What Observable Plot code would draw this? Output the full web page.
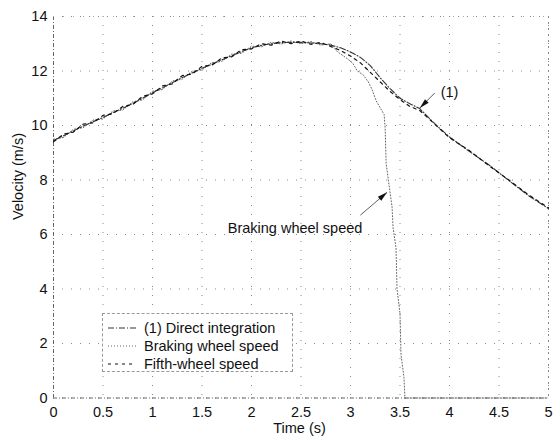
<!DOCTYPE html>
<html><head><meta charset="utf-8">
<script src="https://cdn.jsdelivr.net/npm/d3@7"></script>
<script src="https://cdn.jsdelivr.net/npm/@observablehq/plot@0.6"></script>
<style>
body{margin:0;background:#fff;font-family:"Liberation Sans",Arial,sans-serif;}
#wrap{position:relative;width:557px;height:441px;}
#legend{position:absolute;left:102px;top:313px;width:191px;height:59px;border:1px dashed #999;box-sizing:border-box;font-size:14.5px;background:#fff;}
.row{position:absolute;left:0;height:18px;width:100%;}
.row svg{position:absolute;left:3px;top:4px;}
.row span{position:absolute;left:41px;top:0;line-height:18px;white-space:nowrap;color:#111;}
</style></head><body><div id="wrap"></div>
<script>
// ---- data ----
const directTime = [0,0.1,0.2,0.3,0.4,0.5,0.6,0.7,0.8,0.9,1.0,1.1,1.2,1.3,1.4,1.5,1.6,1.7,1.8,1.9,2.0,2.1,2.2,2.3,2.4,2.5,2.6,2.7,2.8,
  2.9,3.0,3.1,3.2,3.3,3.4,3.5,3.6,3.7,3.8,3.9,4.0,4.2,4.4,4.6,4.8,5.0];
const directVelocity = [9.45,9.62,9.80,9.98,10.14,10.30,10.47,10.63,10.81,11.00,11.20,11.38,11.57,11.76,11.93,12.10,12.25,12.41,12.56,12.71,12.85,12.94,13.00,13.04,13.05,13.05,13.03,13.00,12.95,
  12.85,12.70,12.50,12.20,11.75,11.35,11.00,10.80,10.62,10.25,9.90,9.58,9.05,8.55,7.98,7.42,6.95];

const fifthTime = [0,0.1,0.2,0.3,0.4,0.5,0.6,0.7,0.8,0.9,1.0,1.1,1.2,1.3,1.4,1.5,1.6,1.7,1.8,1.9,2.0,2.1,2.2,2.3,2.4,2.5,2.6,2.7,2.8,
  2.9,3.0,3.1,3.2,3.3,3.4,3.5,3.6,3.7,3.8,3.9,4.0,4.2,4.4,4.6,4.8,5.0];
const fifthVelocity = [9.40,9.68,9.76,10.05,10.10,10.37,10.43,10.70,10.77,11.07,11.16,11.45,11.53,11.83,11.89,12.17,12.21,12.48,12.52,12.78,12.81,13.00,12.95,13.10,13.00,13.10,12.98,13.05,12.90,
  12.75,12.55,12.30,11.95,11.60,11.25,10.95,10.70,10.55,10.22,9.88,9.55,9.08,8.52,8.00,7.45,6.98];

const brakingTime = [0,0.1,0.2,0.3,0.4,0.5,0.6,0.7,0.8,0.9,1.0,1.1,1.2,1.3,1.4,1.5,1.6,1.7,1.8,1.9,2.0,2.1,2.2,2.3,2.4,2.5,2.6,2.7,2.8,
  2.87,2.95,3.02,3.07,3.13,3.18,3.22,3.26,3.30,3.34,3.35,3.36,3.42,3.43,3.46,3.47,3.50,3.51,3.54,3.55,4.0,5.0];
const brakingVelocity = [9.50,9.56,9.86,9.92,10.20,10.24,10.53,10.57,10.87,10.94,11.26,11.32,11.63,11.70,11.99,12.04,12.31,12.35,12.62,12.65,12.91,12.89,13.05,12.99,13.10,13.00,13.08,12.95,13.00,
  12.70,12.50,12.30,12.00,11.85,11.60,11.30,10.90,10.65,10.40,9.90,8.60,7.00,6.25,5.50,4.00,3.10,1.60,0.75,0,0,0];

const xTicks = [0,0.5,1,1.5,2,2.5,3,3.5,4,4.5,5];
const yTicks = [0,2,4,6,8,10,12,14];

const seriesNames = ["(1) Direct integration","Braking wheel speed","Fifth-wheel speed"];

const labelText = ["(1)","Braking wheel speed"];
const labelTime = [4.0,2.44];
const labelVel = [11.23,6.23];

const arrowFromTime = [3.85,3.10];
const arrowFromVel = [11.19,6.71];
const arrowToTime = [3.70,3.37];
const arrowToVel = [10.64,7.55];

// ---- styles ----
const styles = {
  direct: {stroke:"#333", strokeWidth:1.1, strokeDasharray:"6,2,1,2"},
  braking: {stroke:"#666", strokeWidth:1, strokeDasharray:"1,2"},
  fifth: {stroke:"#111", strokeWidth:1.2, strokeDasharray:"3,4"}
};

const toRows = (t, v) => t.map((d, i) => ({t: d, v: v[i]}));
const directRows = toRows(directTime, directVelocity);
const fifthRows = toRows(fifthTime, fifthVelocity);
const brakingRows = toRows(brakingTime, brakingVelocity);
const labelRows = labelText.map((s, i) => ({s, t: labelTime[i], v: labelVel[i]}));
const arrowRows = arrowFromTime.map((d, i) => ({x1: d, y1: arrowFromVel[i], x2: arrowToTime[i], y2: arrowToVel[i]}));

const chart = Plot.plot({
  width: 557, height: 441,
  marginLeft: 53, marginRight: 9, marginTop: 16, marginBottom: 43.5,
  x: {domain: [0, 5]},
  y: {domain: [0, 14]},
  style: {fontFamily: '"Liberation Sans", Arial, sans-serif', fontSize: "14.5px", color: "#111", background: "#fff"},
  marks: [
    Plot.gridX(xTicks, {stroke: "#888", strokeOpacity: 1, strokeDasharray: "1,8"}),
    Plot.gridY(yTicks, {stroke: "#888", strokeOpacity: 1, strokeDasharray: "1,8"}),
    Plot.ruleX([0], {stroke: "#666", strokeDasharray: "4,2,1,2"}),
    Plot.ruleX([5], {stroke: "#888", strokeDasharray: "2,4"}),
    Plot.ruleY([0], {stroke: "#666", strokeDasharray: "4,2,1,2"}),
    Plot.ruleY([14], {stroke: "#aaa", strokeDasharray: "1,9"}),
    Plot.axisX({ticks: xTicks, tickSize: 0, tickPadding: 9, label: null, tickFormat: d => String(d)}),
    Plot.axisY({ticks: yTicks, tickSize: 0, tickPadding: 6, label: null}),
    Plot.text(["Time (s)"], {frameAnchor: "bottom", dy: 34.5, dx: -1.5, fill: "#111"}),
    Plot.text(["Velocity (m/s)"], {frameAnchor: "left", rotate: -90, dx: -35, dy: 12.8, fill: "#111"}),
    Plot.line(brakingRows, {x: "t", y: "v", ...styles.braking}),
    Plot.line(directRows, {x: "t", y: "v", ...styles.direct}),
    Plot.line(fifthRows, {x: "t", y: "v", ...styles.fifth}),
    Plot.link(arrowRows, {x1: "x1", y1: "y1", x2: "x2", y2: "y2", stroke: "#333", strokeWidth: 0.8, markerEnd: "arrow"}),
    Plot.text(labelRows, {x: "t", y: "v", text: "s", fill: "#111", fontWeight: d => d.s === "(1)" ? "bold" : "normal"})
  ]
});

// filled arrowheads
d3.select(chart).selectAll("marker")
  .attr("viewBox", "-11 -3 12 6")
  .attr("markerWidth", 12).attr("markerHeight", 6)
  .attr("markerUnits", "userSpaceOnUse")
  .attr("fill", "#111").attr("stroke", "none")
  .selectAll("path").attr("d", "M-10,-2.6L0,0L-10,2.6Z");

const wrap = document.getElementById("wrap");
wrap.appendChild(chart);

// legend
const legend = document.createElement("div");
legend.id = "legend";
const legendStyles = [styles.direct, styles.braking, styles.fifth];
const rowTops = [5, 23, 41];
seriesNames.forEach((name, i) => {
  const row = document.createElement("div");
  row.className = "row";
  row.style.top = rowTops[i] + "px";
  const s = legendStyles[i];
  row.innerHTML = `<svg width="32" height="10"><line x1="2" y1="5" x2="30" y2="5" stroke="${s.stroke}" stroke-width="${s.strokeWidth}" stroke-dasharray="${s.strokeDasharray}"/></svg><span>${name}</span>`;
  legend.appendChild(row);
});
wrap.appendChild(legend);
</script>
</body></html>
